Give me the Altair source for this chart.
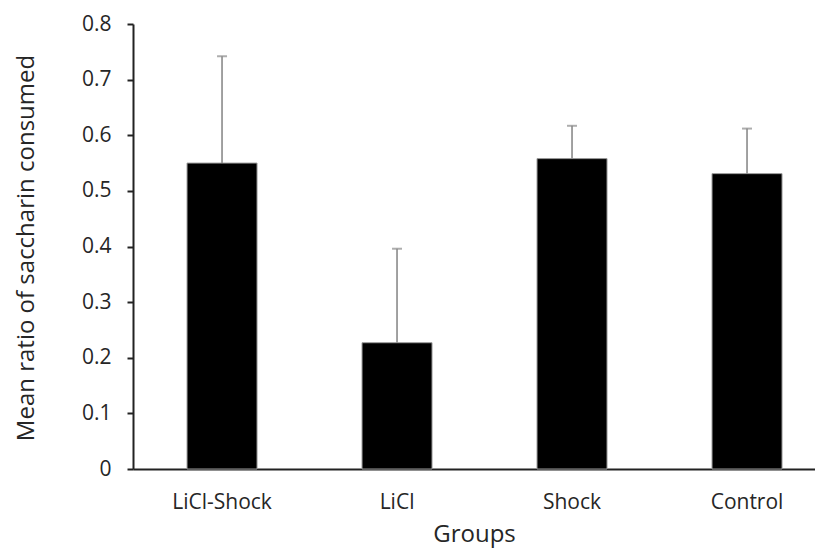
import altair as alt
import pandas as pd

groups = ["LiCl-Shock", "LiCl", "Shock", "Control"]
means = [0.55, 0.227, 0.558, 0.531]
err_tops = [0.742, 0.396, 0.617, 0.612]

df = pd.DataFrame({"group": groups, "mean": means, "top": err_tops})

FONT = "Open Sans"
TXT = "#262626"

x = alt.X(
    "group:N",
    sort=groups,
    scale=alt.Scale(paddingInner=0.6, paddingOuter=0.2486, align=0.621),
    axis=alt.Axis(
        title="Groups",
        labelAngle=0,
        ticks=False,
        tickSize=0,
        labelPadding=22,
        labelFontSize=21,
        labelFont=FONT,
        labelColor=TXT,
        titleFont=FONT,
        titleFontSize=24,
        titleFontWeight="normal",
        titleColor=TXT,
        titleBaseline="alphabetic",
        titleY=72,
        domainColor="#222222",
        domainWidth=2,
    ),
)

y = alt.Y(
    "mean:Q",
    scale=alt.Scale(domain=[0, 0.8], nice=False, zero=True),
    axis=alt.Axis(
        title="Mean ratio of saccharin consumed",
        values=[0, 0.1, 0.2, 0.3, 0.4, 0.5, 0.6, 0.7, 0.8],
        labelExpr="datum.value == 0 ? '0' : format(datum.value, '.1f')",
        grid=False,
        tickSize=6,
        tickWidth=2,
        tickColor="#222222",
        labelPadding=16,
        labelFontSize=21,
        labelFont=FONT,
        labelColor=TXT,
        titleFont=FONT,
        titleFontSize=24,
        titleFontWeight="normal",
        titleColor=TXT,
        titleAngle=270,
        titleAlign="center",
        titleBaseline="middle",
        titleX=-107,
        titleY=223.5,
        domainColor="#222222",
        domainWidth=2,
    ),
)

bars = alt.Chart(df).mark_bar(color="#000000", stroke="#9a9a9a", strokeWidth=1).encode(x=x, y=y)

rules = alt.Chart(df).mark_rule(color="#8a8a8a", strokeWidth=1.6).encode(
    x=alt.X("group:N", sort=groups),
    y="mean:Q",
    y2="top:Q",
)

caps = alt.Chart(df).mark_tick(color="#8a8a8a", thickness=2, size=10).encode(
    x=alt.X("group:N", sort=groups),
    y="top:Q",
)

chart = (
    alt.layer(bars, rules, caps)
    .properties(
        width=682,
        height=445,
        autosize=alt.AutoSizeParams(type="none"),
        padding={"left": 125, "top": 16, "right": 0, "bottom": 80},
    )
    .configure_view(stroke=None)
)

chart.save("out.html", embed_options={"renderer": "svg", "actions": False})
